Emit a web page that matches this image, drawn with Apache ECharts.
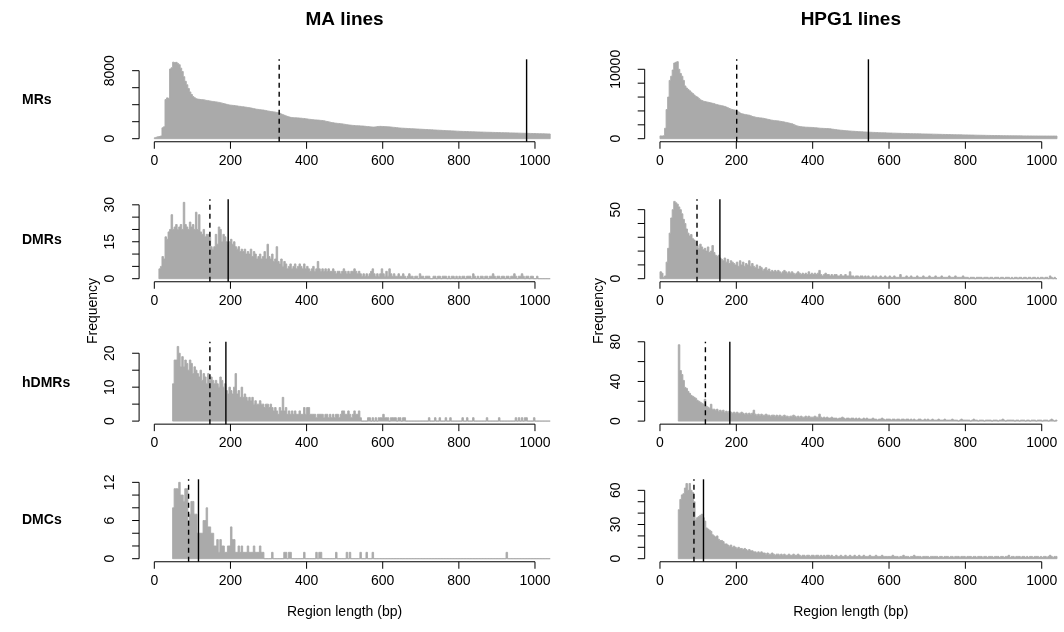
<!DOCTYPE html>
<html><head><meta charset="utf-8">
<script src="https://cdn.jsdelivr.net/npm/echarts@6/dist/echarts.min.js"></script>
<style>html,body{margin:0;padding:0;background:#fff}#c{width:1064px;height:632px}</style>
</head><body><div id="c"></div>
<script>
// ---------------- DATA ----------------
const binWidth = 4; // bp per histogram bin, bins start at 0
const xTicks = [0, 200, 400, 600, 800, 1000];
const colTitles = ['MA lines', 'HPG1 lines'];
const rowLabels = ['MRs', 'DMRs', 'hDMRs', 'DMCs'];
const xTitle = 'Region length (bp)';
const yTitle = 'Frequency';

const maMRs = [
 110,170,230,260,320,1280,1400,4600,4800,4750,
 8200,8350,9000,8950,8980,8850,8700,8300,7900,7300,
 6750,6350,5900,5500,5200,4950,4820,4700,4660,4630,
 4610,4590,4570,4530,4500,4470,4440,4400,4380,4350,
 4330,4300,4270,4220,4180,4140,4090,4040,3990,3960,
 3940,3920,3900,3870,3850,3820,3800,3770,3750,3720,
 3700,3670,3640,3610,3570,3530,3490,3460,3440,3410,
 3390,3370,3340,3300,3260,3230,3200,3170,3150,3120,
 3090,3050,2980,2900,2820,2750,2680,2620,2560,2510,
 2480,2470,2460,2450,2440,2420,2410,2390,2370,2340,
 2320,2290,2270,2250,2230,2210,2200,2190,2170,2150,
 2130,2100,2060,2020,1980,1940,1900,1870,1840,1820,
 1800,1780,1760,1740,1710,1680,1650,1620,1600,1580,
 1560,1550,1530,1520,1510,1500,1490,1480,1460,1440,
 1420,1400,1380,1370,1370,1390,1420,1440,1450,1440,
 1430,1420,1410,1400,1390,1370,1350,1330,1310,1290,
 1270,1250,1240,1230,1220,1210,1200,1190,1180,1170,
 1160,1150,1140,1130,1120,1110,1100,1090,1080,1070,
 1060,1050,1040,1030,1020,1010,1000,990,980,970,
 960,950,940,935,925,920,910,900,890,880,
 870,862,855,850,843,838,830,822,815,808,
 803,798,792,786,780,776,770,764,758,754,
 750,745,740,733,730,724,720,714,709,705,
 700,694,690,684,680,676,670,664,660,655,
 650,646,640,634,630,626,620,614,610,606,
 600,596,590,586,580,576,570,566,560,556
];
const hpgMRs = [
 400,380,420,1500,4200,6000,8400,9000,9900,10900,
 11000,11100,10000,9400,9000,8400,7600,7300,7100,6900,
 6700,6500,6300,6100,6000,5800,5600,5500,5400,5350,
 5300,5250,5200,5150,5100,5050,4950,4900,4850,4800,
 4750,4700,4650,4550,4450,4350,4250,4200,4150,4100,
 4000,3850,3700,3600,3550,3500,3450,3420,3380,3300,
 3200,3150,3100,3060,3030,3000,2980,2950,2900,2850,
 2800,2750,2700,2660,2630,2600,2580,2560,2520,2480,
 2440,2400,2350,2300,2250,2200,2150,2050,1950,1850,
 1800,1760,1720,1700,1680,1660,1650,1640,1630,1620,
 1600,1580,1560,1540,1520,1500,1490,1480,1470,1460,
 1450,1420,1390,1360,1330,1300,1270,1240,1220,1200,
 1180,1160,1140,1120,1100,1090,1070,1060,1040,1030,
 1010,1000,990,975,965,950,940,930,920,910,
 900,890,880,870,860,850,845,840,830,820,
 815,810,800,795,790,780,775,770,760,755,
 750,745,740,730,725,720,715,710,705,700,
 695,690,685,680,675,670,665,660,655,650,
 645,640,630,625,620,615,610,605,600,595,
 590,585,580,575,570,565,560,555,550,545,
 540,535,530,525,520,515,510,505,500,495,
 490,486,482,478,474,470,466,462,458,455,
 452,448,445,442,439,436,433,430,427,425,
 422,420,418,415,412,410,408,405,402,400,
 400,398,396,395,393,392,390,390,388,387,
 386,385,384,383,382,381,380,380,379,378
];
const maDMRs = [
 0,0,0,4,5,9,8,17,16,19,
 20,26,20,21,22,20,21,22,20,31,
 22,21,20,23,21,22,20,27,20,26,
 19,18,20,17,18,18,17,13,12,13,
 18,14,21,20,15,18,17,15,14,15,
 16,14,15,13,12,13,11,12,11,12,
 10,11,10,12,9,11,10,8,9,10,
 8,9,11,8,14,9,8,10,7,8,
 13,7,6,8,5,7,6,4,5,6,
 4,5,6,4,5,6,5,4,6,4,
 5,4,3,4,5,3,4,7,4,3,
 4,3,4,3,4,3,3,4,3,2,
 3,3,2,3,4,3,2,3,2,3,
 3,4,3,2,3,2,1,2,1,2,
 1,2,3,4,2,1,2,1,2,4,
 2,1,3,1,4,2,1,2,1,1,
 2,1,1,2,1,0,1,2,1,1,
 0,1,1,0,2,1,1,0,1,1,
 1,0,0,1,1,0,1,1,0,1,
 1,1,0,1,0,1,1,0,1,0,
 1,0,1,1,0,1,1,1,0,2,
 1,0,1,0,1,1,0,1,1,0,
 1,1,2,1,0,1,1,0,1,1,
 0,1,1,0,1,1,2,1,0,1,
 1,2,1,0,1,1,0,1,1,0,
 0,1,0,0,0,0,0,0,0,0
];
const hpgDMRs = [
 5,4,1,2,12,22,33,44,50,56,
 55,54,52,50,47,43,40,36,33,31,
 32,29,28,27,24,22,25,23,21,22,
 20,23,19,20,24,19,17,16,17,15,
 14,13,15,12,14,11,13,12,11,10,
 12,9,13,10,12,9,11,10,13,9,
 11,9,8,10,7,9,8,6,7,8,
 6,7,5,6,5,6,5,6,5,4,
 5,6,5,4,5,4,5,4,3,4,
 5,4,3,4,3,4,3,5,3,4,
 3,4,3,4,6,3,2,3,4,3,
 3,2,3,2,3,3,2,2,3,2,
 2,3,2,2,5,2,2,1,2,2,
 1,2,2,1,2,1,2,1,1,2,
 1,2,1,1,2,1,1,2,1,1,
 2,1,1,2,1,1,1,3,1,1,
 1,2,1,1,2,1,1,1,2,1,
 1,1,2,1,1,1,2,1,1,1,
 2,1,1,1,2,1,1,1,1,2,
 1,1,1,2,1,1,1,1,2,1,
 1,1,0,1,1,1,0,1,1,1,
 1,0,1,1,1,0,1,1,0,1,
 1,1,0,1,1,0,1,1,1,0,
 1,0,1,1,0,1,1,0,1,1,
 0,1,1,0,1,1,0,1,0,1,
 1,0,1,1,0,2,1,0,1,0
];
const maHDMRs = [
 0,0,0,0,0,0,0,0,0,0,
 0,0,11,18,18,22,20,16,19,16,
 18,17,15,18,17,14,16,15,14,13,
 15,12,14,13,11,14,12,13,12,11,
 12,11,10,13,12,10,11,9,8,10,
 9,8,10,14,8,9,7,10,7,8,
 7,6,7,6,7,5,6,5,5,6,
 5,5,4,5,5,4,5,4,3,4,
 3,2,4,3,7,3,4,2,3,2,
 3,2,3,2,2,3,2,2,4,2,
 4,4,2,2,2,2,1,2,2,2,
 2,1,2,2,1,2,1,2,1,2,
 2,1,2,3,3,2,2,3,2,1,
 2,3,2,2,3,1,0,0,0,0,
 1,1,0,1,0,1,0,1,1,1,
 2,1,1,1,0,1,1,1,1,0,
 1,1,0,1,1,0,0,0,0,0,
 0,0,0,0,0,0,0,0,0,0,
 1,0,0,0,1,0,0,1,0,0,
 0,1,0,0,1,0,0,0,0,0,
 0,0,1,0,0,1,0,0,0,1,
 0,0,0,0,0,0,0,0,1,0,
 0,0,0,0,0,0,1,0,0,0,
 0,0,0,0,0,0,0,1,0,1,
 0,1,0,1,1,0,0,0,0,1,
 0,0,0,0,0,0,0,0,0,0
];
const hpgHDMRs = [
 0,0,0,0,0,0,0,0,0,0,
 0,0,77,51,47,41,34,33,30,28,
 26,25,24,23,21,20,19,18,17,22,
 15,14,13,17,12,12,11,12,10,11,
 10,11,9,10,9,10,9,8,9,8,
 9,8,8,9,8,7,8,7,8,7,
 8,11,7,6,7,6,7,6,6,7,
 6,6,5,6,6,5,6,5,6,5,
 5,6,5,5,4,5,5,6,5,4,
 5,4,5,4,4,5,4,5,4,4,
 4,5,4,4,7,4,3,4,3,4,
 3,3,4,3,3,3,2,3,3,4,
 3,2,3,3,2,3,3,2,3,2,
 3,2,2,3,2,3,2,2,2,3,
 2,2,1,2,2,3,2,1,2,2,
 2,1,2,2,1,2,2,1,2,2,
 1,2,2,1,2,1,2,1,1,2,
 2,1,1,2,1,2,1,1,2,1,
 1,1,2,1,1,1,2,1,1,1,
 1,2,1,1,1,0,1,2,1,1,
 1,1,1,0,1,2,1,1,0,1,
 1,1,0,1,1,1,1,0,1,1,
 1,0,1,1,2,1,0,1,1,1,
 1,1,0,1,1,0,1,1,1,0,
 1,1,0,1,1,1,0,1,1,1,
 0,1,1,1,0,1,2,1,0,1
];
const maDMCs = [
 0,0,0,0,0,0,0,0,0,0,
 0,0,8,11,11,11,12,10,10,9,
 11,11,6,7,9,9,7,7,4,4,
 4,4,6,6,8,5,5,4,4,2,
 2,3,1,3,2,2,1,1,2,2,
 5,3,3,1,1,2,1,2,1,1,
 1,2,1,1,1,2,1,1,1,2,
 1,1,0,0,0,0,0,1,0,0,
 0,0,0,0,0,1,1,0,1,1,
 0,0,0,0,0,0,0,0,1,0,
 0,0,0,0,0,0,1,0,1,1,
 0,0,0,0,0,0,0,0,0,1,
 0,0,0,0,0,0,1,0,1,0,
 0,0,0,0,0,1,0,0,0,1,
 0,0,0,1,0,0,0,0,0,0,
 0,0,0,0,0,0,0,0,0,0,
 0,0,0,0,0,0,0,0,0,0,
 0,0,0,0,0,0,0,0,0,0,
 0,0,0,0,0,0,0,0,0,0,
 0,0,0,0,0,0,0,0,0,0,
 0,0,0,0,0,0,0,0,0,0,
 0,0,0,0,0,0,0,0,0,0,
 0,0,0,0,0,0,0,0,0,0,
 0,1,0,0,0,0,0,0,0,0,
 0,0,0,0,0,0,0,0,0,0,
 0,0,0,0,0,0,0,0,0,0
];
const hpgDMCs = [
 0,0,0,0,0,0,0,0,0,0,
 0,0,43,52,56,57,62,66,60,66,
 60,58,50,34,36,37,38,39,36,33,
 27,26,25,24,21,20,19,20,17,16,
 16,15,13,13,12,11,12,10,11,10,
 9,10,9,9,8,9,8,7,8,7,
 7,6,6,5,6,5,6,5,5,4,
 5,4,4,5,4,3,4,4,3,4,
 3,4,3,3,4,3,3,4,3,3,
 4,3,2,3,3,2,3,3,2,3,
 3,2,3,3,2,3,2,3,2,3,
 3,2,3,2,2,3,2,2,3,2,
 2,3,2,2,3,2,2,3,2,2,
 3,2,2,3,2,2,2,3,2,2,
 2,3,2,2,2,3,2,2,2,2,
 2,2,3,2,2,2,1,2,2,3,
 2,2,2,1,2,2,3,2,2,2,
 2,1,2,2,2,2,1,2,2,2,
 2,2,1,2,2,1,2,2,2,1,
 2,2,1,2,2,2,1,2,2,2,
 1,2,2,2,1,2,2,1,2,2,
 2,1,2,2,1,2,2,2,1,2,
 2,2,1,2,2,1,2,2,3,1,
 2,2,1,2,2,2,1,2,2,1,
 2,1,2,2,1,2,2,2,1,2,
 1,2,2,1,2,3,2,1,2,2
];

// medians (dashed) and means (solid), rows MRs, DMRs, hDMRs, DMCs
const medianMA = [328, 146, 146, 90];
const meanMA = [978, 194, 188, 116];
const medianHPG1 = [201, 97, 119, 89];
const meanHPG1 = [546, 157, 183, 114];

// y-axis scale tops, ticks and the tick labels shown
const yMaxMA = [8980, 31, 22.5, 12];
const yMaxHPG1 = [11000, 55.3, 77, 67];
const yTicksMA = [[0,2000,4000,6000,8000],[0,5,10,15,20,25,30],[0,5,10,15,20],[0,2,4,6,8,10,12]];
const yLabelsMA = [[0,8000],[0,15,30],[0,10,20],[0,6,12]];
const yTicksHPG1 = [[0,2000,4000,6000,8000,10000],[0,10,20,30,40,50],[0,20,40,60,80],[0,10,20,30,40,50,60]];
const yLabelsHPG1 = [[0,10000],[0,50],[0,40,80],[0,30,60]];

// ---------------- LAYOUT / STYLE ----------------
const FONT = '"Liberation Sans", Arial, Helvetica, sans-serif';
const f = (s, b) => (b ? 'bold ' : '') + s + 'px ' + FONT;
const GRAY = '#aaaaaa';
const xMin = -40, xMax = 1040;
const gridLeft = [139.1, 644.7], gridWidth = [411.1, 412.3];
const gridTop = [59.3, 199.3, 341.7, 479.3], gridHeight = 82.45;

const countsMA = [maMRs, maDMRs, maHDMRs, maDMCs];
const countsHPG1 = [hpgMRs, hpgDMRs, hpgHDMRs, hpgDMCs];

const panels = [];
for (let r = 0; r < 4; r++) {
  panels.push({col: 0, row: r, counts: countsMA[r], ymax: yMaxMA[r], yticks: yTicksMA[r], ylabels: yLabelsMA[r], median: medianMA[r], mean: meanMA[r]});
  panels.push({col: 1, row: r, counts: countsHPG1[r], ymax: yMaxHPG1[r], yticks: yTicksHPG1[r], ylabels: yLabelsHPG1[r], median: medianHPG1[r], mean: meanHPG1[r]});
}

const grid = [], xAxis = [], yAxis = [], series = [];
panels.forEach((p, k) => {
  const yMin = -0.04 * p.ymax, yTop = 1.04 * p.ymax;
  grid.push({left: gridLeft[p.col], top: gridTop[p.row], width: gridWidth[p.col], height: gridHeight});
  xAxis.push({gridIndex: k, type: 'value', min: xMin, max: xMax, show: false});
  yAxis.push({gridIndex: k, type: 'value', min: yMin, max: yTop, show: false});

  // histogram bins: [start, end, count]
  const first = p.counts.findIndex(c => c > 0);
  const bins = [];
  for (let i = first; i < p.counts.length; i++) bins.push([i * binWidth, (i + 1) * binWidth, p.counts[i]]);
  // drawn as one step outline polygon so adjacent bins have no seams
  series.push({
    type: 'custom', xAxisIndex: k, yAxisIndex: k, clip: true, silent: true,
    data: [[bins[0][0], 0]],
    renderItem: (params, api) => {
      const pts = [api.coord([bins[0][0], 0])];
      bins.forEach(b => { pts.push(api.coord([b[0], b[2]])); pts.push(api.coord([b[1], b[2]])); });
      pts.push(api.coord([bins[bins.length - 1][1], 0]));
      return {type: 'polygon', shape: {points: pts}, style: {fill: GRAY, stroke: GRAY, lineWidth: 0.9}};
    }
  });

  // median (dashed) and mean (solid) lines
  series.push({
    type: 'custom', xAxisIndex: k, yAxisIndex: k, clip: false, silent: true,
    data: [[p.median, 1], [p.mean, 0]],
    renderItem: (params, api) => {
      const a = api.coord([api.value(0), yMin]);
      const b = api.coord([api.value(0), yTop]);
      const dashed = api.value(1) === 1;
      return {type: 'line', shape: {x1: a[0], y1: a[1], x2: b[0], y2: b[1]},
              style: {stroke: '#000', lineWidth: 1.4, lineDash: dashed ? [5, 4] : null}};
    }
  });

  // R-style axes
  series.push({
    type: 'custom', xAxisIndex: k, yAxisIndex: k, clip: false, silent: true,
    data: [[0, 0]],
    renderItem: (params, api) => {
      const ch = [];
      const L = (x1, y1, x2, y2) => ch.push({type: 'line', shape: {x1, y1, x2, y2}, style: {stroke: '#000', lineWidth: 1}});
      const T = (s, x, y, rot) => ch.push({type: 'text', x, y, rotation: rot,
        style: {text: s, font: f(14), fill: '#000', textAlign: 'center', textVerticalAlign: 'middle'}});
      const a = api.coord([xTicks[0], yMin]), b = api.coord([xTicks[xTicks.length - 1], yMin]);
      L(a[0], a[1], b[0], b[1]);
      xTicks.forEach(t => {
        const q = api.coord([t, yMin]);
        L(q[0], q[1], q[0], q[1] + 7);
        T(String(t), q[0], q[1] + 19, 0);
      });
      const c = api.coord([xMin, p.yticks[0]]), d = api.coord([xMin, p.yticks[p.yticks.length - 1]]);
      L(c[0], c[1], d[0], d[1]);
      p.yticks.forEach(t => {
        const q = api.coord([xMin, t]);
        L(q[0] - 7, q[1], q[0], q[1]);
      });
      p.ylabels.forEach(t => {
        const q = api.coord([xMin, t]);
        T(String(t), q[0] - 29, q[1], Math.PI / 2);
      });
      return {type: 'group', children: ch};
    }
  });
});

// titles and labels
const graphic = [];
const colCenter = [344.6, 850.8];
colTitles.forEach((t, i) => {
  graphic.push({type: 'text', x: colCenter[i], y: 20, style: {text: t, font: f(19, true), fill: '#000', textAlign: 'center', textVerticalAlign: 'middle'}});
  graphic.push({type: 'text', x: colCenter[i], y: 612, style: {text: xTitle, font: f(14), fill: '#000', textAlign: 'center', textVerticalAlign: 'middle'}});
  graphic.push({type: 'text', x: gridLeft[i] - 46, y: 311, rotation: Math.PI / 2, style: {text: yTitle, font: f(14), fill: '#000', textAlign: 'center', textVerticalAlign: 'middle'}});
});
rowLabels.forEach((t, r) => {
  graphic.push({type: 'text', x: 22, y: gridTop[r] + gridHeight / 2, style: {text: t, font: f(14, true), fill: '#000', textAlign: 'left', textVerticalAlign: 'middle'}});
});

const chart = echarts.init(document.getElementById('c'), null, {renderer: 'canvas'});
chart.setOption({animation: false, backgroundColor: '#fff', grid, xAxis, yAxis, series, graphic});
</script></body></html>
